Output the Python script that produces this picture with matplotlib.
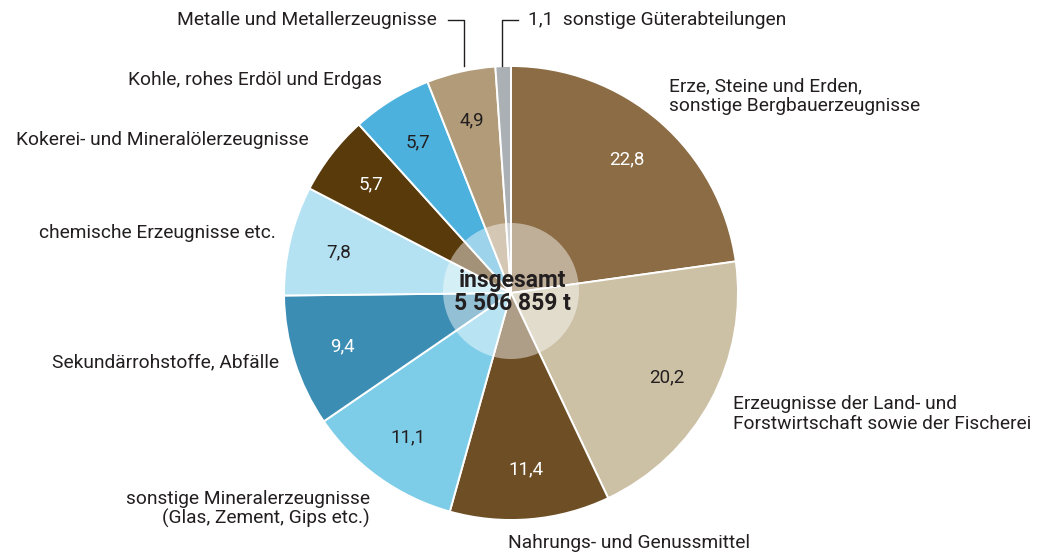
import matplotlib
matplotlib.use("Agg")
import matplotlib.pyplot as plt
import numpy as np
from matplotlib.patches import Circle

plt.rcParams["font.family"] = ["Roboto", "DejaVu Sans"]

categories = [
    "Erze, Steine und Erden,\nsonstige Bergbauerzeugnisse",
    "Erzeugnisse der Land- und\nForstwirtschaft sowie der Fischerei",
    "Nahrungs- und Genussmittel",
    "sonstige Mineralerzeugnisse\n(Glas, Zement, Gips etc.)",
    "Sekundärrohstoffe, Abfälle",
    "chemische Erzeugnisse etc.",
    "Kokerei- und Mineralölerzeugnisse",
    "Kohle, rohes Erdöl und Erdgas",
    "Metalle und Metallerzeugnisse",
    "sonstige Güterabteilungen",
]
shares = [22.8, 20.2, 11.4, 11.1, 9.4, 7.8, 5.7, 5.7, 4.9, 1.1]
share_labels = ["22,8", "20,2", "11,4", "11,1", "9,4", "7,8", "5,7", "5,7", "4,9", "1,1"]
colors = ["#8B6C45", "#CCC0A5", "#6E4F25", "#7ECDE8", "#3B8DB4",
          "#B4E2F2", "#583A0B", "#4DB1DD", "#B19B78", "#AAB0B4"]
value_colors = ["white", "#231F20", "white", "#231F20", "white",
                "#231F20", "white", "#231F20", "#231F20", "#231F20"]
total_text = "insgesamt\n5 506 859 t"

W, H = 1042, 556
fig = plt.figure(figsize=(W / 100, H / 100), dpi=100)
ax = fig.add_axes([0, 0, 1, 1])

cx, cy, r = 511, H - 293, 227
wedges, _ = ax.pie(shares, colors=colors, startangle=90, counterclock=False,
                   center=(cx, cy), radius=r,
                   wedgeprops=dict(edgecolor="white", linewidth=1.4))
ax.set_xlim(0, W)
ax.set_ylim(0, H)
ax.set_aspect("equal")
ax.axis("off")

for w, lab, tc in zip(wedges[:-1], share_labels[:-1], value_colors[:-1]):
    ang = np.deg2rad((w.theta1 + w.theta2) / 2)
    ax.text(cx + 0.78 * r * np.cos(ang), cy + 0.78 * r * np.sin(ang), lab,
            ha="center", va="center", fontsize=13.5, color=tc)

ax.add_patch(Circle((cx, cy + 2), 68, facecolor="white", alpha=0.45, edgecolor="none"))
ax.text(cx + 1, cy + 1, total_text, ha="center", va="center", fontsize=16.5,
        fontweight="bold", color="#231F20", linespacing=0.95)

txt = dict(fontsize=13.8, color="#231F20", linespacing=1.1, va="center")
outer = [
    (669, 96, "left"), (733, 414, "left"), (508, 543, "left"), (370, 509, "right"),
    (279, 362, "right"), (276, 233, "right"), (309, 140, "right"), (382, 80, "right"),
    (437, 20, "right"),
]
for (x, y, ha), lab in zip(outer, categories[:-1]):
    ax.text(x, H - y, lab, ha=ha, multialignment=ha, **txt)
ax.text(528, H - 20, share_labels[-1] + "  " + categories[-1], ha="left", **txt)

# leader lines
ax.plot([448, 464, 464], [H - 20, H - 20, H - 66], color="#231F20", lw=1)
ax.plot([518, 502, 502], [H - 20, H - 20, H - 66], color="#231F20", lw=1)

fig.savefig("out.png", dpi=100)
